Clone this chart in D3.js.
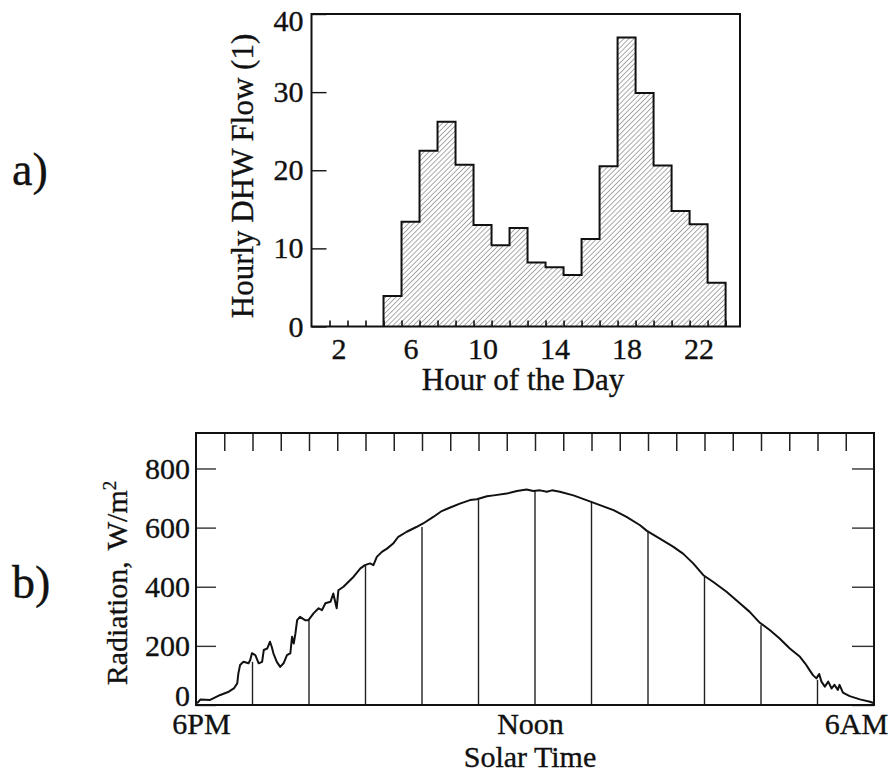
<!DOCTYPE html>
<html>
<head>
<meta charset="utf-8">
<script src="https://cdn.jsdelivr.net/npm/d3@7"></script>
<style>
body { margin: 0; background: #fff; }
</style>
</head>
<body>
<div class="figure"></div>
<script>
const w = 894;
const h = 773;
const serif = "'Liberation Serif', 'Times New Roman', Times, 'DejaVu Serif', serif";

// a) hourly DHW flow, one bar per hour of the day
const hours = [5, 6, 7, 8, 9, 10, 11, 12, 13, 14, 15, 16, 17, 18, 19, 20, 21, 22, 23];
const flow = [3.9, 13.4, 22.5, 26.2, 20.7, 13.0, 10.4, 12.6, 8.2, 7.6, 6.6, 11.2, 20.5, 37.0, 29.9, 20.6, 14.8, 13.1, 5.6];
const flowTicks = [0, 10, 20, 30, 40];
const hourTicks = [2, 6, 10, 14, 18, 22];

// b) radiation trace, hours from the left edge of the plot
const solarHours = [0.02, 0.08, 0.25, 0.43, 0.58, 0.67, 0.73, 0.75, 0.78, 0.84, 0.93, 0.96, 0.99, 1.05, 1.11, 1.17,
    1.2, 1.26, 1.31, 1.34, 1.37, 1.43, 1.49, 1.55, 1.61, 1.67, 1.7, 1.73, 1.76, 1.79, 1.84, 1.93, 1.99, 2.08, 2.17,
    2.23, 2.29, 2.38, 2.43, 2.49, 2.52, 2.61, 2.7, 2.79, 2.91, 2.99, 3.08, 3.14, 3.2, 3.29, 3.38, 3.49, 3.58, 3.73,
    3.9, 4.02, 4.2, 4.35, 4.5, 4.67, 4.85, 4.97, 5.15, 5.27, 5.5, 5.68, 5.85, 5.97, 6.09, 6.21, 6.3, 6.44, 6.68,
    6.91, 7.15, 7.39, 7.62, 7.86, 7.98, 8.21, 8.45, 8.62, 8.8, 8.98, 9.15, 9.39, 9.63, 9.8, 9.98, 10.16, 10.33,
    10.51, 10.69, 10.78, 10.86, 10.92, 10.98, 11.03, 11.07, 11.13, 11.19, 11.25, 11.3, 11.36, 11.39, 11.45, 11.57,
    11.75, 11.93, 12.0];
const radiation = [6, 19, 17, 34, 45, 56, 73, 107, 135, 146, 141, 152, 175, 169, 141, 146,
    186, 191, 214, 197, 175, 146, 129, 141, 169, 175, 231, 208, 242, 287, 298, 287, 287, 310, 327,
    321, 344, 349, 377, 327, 388, 400, 417, 434, 462, 473, 479, 473, 501, 518, 529, 546, 569, 586,
    602, 614, 636, 656, 668, 681, 693, 696, 706, 709, 715, 724, 729, 724, 726, 721, 726, 721, 709,
    693, 676, 659, 636, 608, 589, 563, 535, 512, 479, 439, 417, 383, 343, 315, 278, 253, 225,
    191, 163, 141, 118, 101, 90, 105, 79, 62, 79, 56, 68, 51, 68, 42, 30,
    19, 11, 6];
const dropHours = [1, 2, 3, 4, 5, 6, 7, 8, 9, 10, 11];
const dropRadiation = [146, 287, 473, 602, 696, 724, 688, 589, 434, 270, 85];
const radTicks = [0, 200, 400, 600, 800];
const timeTicks = [0, 6, 12];
const timeLabels = ["6PM", "Noon", "6AM"];

let svg = d3.select(".figure")
    .append("svg")
    .attr("width", w)
    .attr("height", h)
    .style("font-family", serif);

// hatch for the bars
svg.append("defs").append("pattern")
    .attr("id", "hatch")
    .attr("patternUnits", "userSpaceOnUse")
    .attr("width", 3.6)
    .attr("height", 3.6)
    .attr("patternTransform", "rotate(45)")
    .append("line")
    .attr("x1", 0).attr("y1", 0)
    .attr("x2", 0).attr("y2", 3.6)
    .attr("stroke", "#444")
    .attr("stroke-width", 0.9);

// scanned look: slightly heavy serif text
function styleLabels(sel, size) {
    sel.attr("font-size", size)
        .attr("font-family", serif)
        .attr("fill", "#111")
        .attr("stroke", "#111")
        .attr("stroke-width", 0.35);
}

// ---------- a) ----------
let x1 = d3.scaleLinear().domain([0.5, 24.3]).range([311.5, 740]);
let y1 = d3.scaleLinear().domain([0, 40]).range([326.5, 14]);

let gA = svg.append("g");

gA.selectAll("rect.bar")
    .data(hours)
    .enter()
    .append("rect")
    .attr("class", "bar")
    .attr("x", (d) => x1(d - 0.5))
    .attr("width", (d) => x1(d + 0.5) - x1(d - 0.5))
    .attr("y", (d, i) => y1(flow[i]))
    .attr("height", (d, i) => y1(0) - y1(flow[i]))
    .attr("fill", "url(#hatch)");

// step outline
let steps = [[hours[0] - 0.5, 0]];
hours.forEach((d, i) => {
    steps.push([d - 0.5, flow[i]]);
    steps.push([d + 0.5, flow[i]]);
});
steps.push([hours[hours.length - 1] + 0.5, 0]);

gA.append("path")
    .datum(steps)
    .attr("fill", "none")
    .attr("stroke", "#111")
    .attr("stroke-width", 2)
    .attr("d", d3.line().x((d) => x1(d[0])).y((d) => y1(d[1])));

// hour boundary ticks
gA.append("g")
    .attr("transform", "translate(0," + y1(0) + ")")
    .call(d3.axisBottom(x1).tickValues(d3.range(1.5, 24, 1)).tickSize(-6).tickFormat(""))
    .call((g) => g.select(".domain").remove())
    .selectAll("line").attr("stroke", "#111").attr("stroke-width", 1.6);

gA.append("g")
    .attr("transform", "translate(0," + y1(0) + ")")
    .call(d3.axisBottom(x1).tickValues(hourTicks).tickSize(0).tickPadding(11))
    .call((g) => g.select(".domain").remove())
    .selectAll("text").call(styleLabels, 30);

gA.append("g")
    .attr("transform", "translate(" + x1(0.5) + ",0)")
    .call(d3.axisLeft(y1).tickValues(flowTicks).tickSize(-15).tickPadding(8))
    .call((g) => g.select(".domain").remove())
    .call((g) => g.selectAll("line").attr("stroke", "#111").attr("stroke-width", 1.4))
    .selectAll("text").call(styleLabels, 30)
    .attr("dy", (d) => d === 40 ? "0.55em" : "0.32em");

gA.append("rect")
    .attr("x", x1(0.5))
    .attr("y", y1(40))
    .attr("width", x1(24.3) - x1(0.5))
    .attr("height", y1(0) - y1(40))
    .attr("fill", "none")
    .attr("stroke", "#111")
    .attr("stroke-width", 2);

gA.append("text")
    .attr("x", 523)
    .attr("y", 390)
    .attr("text-anchor", "middle")
    .call(styleLabels, 31)
    .text("Hour of the Day");

gA.append("text")
    .attr("transform", "translate(253,176) rotate(-90)")
    .attr("text-anchor", "middle")
    .call(styleLabels, 31)
    .text("Hourly DHW Flow (1)");

svg.append("text")
    .attr("x", 12)
    .attr("y", 185)
    .call(styleLabels, 46)
    .text("a)");

// ---------- b) ----------
let x2 = d3.scaleLinear().domain([0, 12]).range([196, 874]);
let y2 = d3.scaleLinear().domain([0, 920]).range([705, 433]);

let gB = svg.append("g");

gB.selectAll("line.drop")
    .data(dropHours)
    .enter()
    .append("line")
    .attr("class", "drop")
    .attr("x1", (d) => x2(d))
    .attr("x2", (d) => x2(d))
    .attr("y1", y2(0))
    .attr("y2", (d, i) => y2(dropRadiation[i]))
    .attr("stroke", "#222")
    .attr("stroke-width", 1.4);

gB.append("path")
    .datum(solarHours)
    .attr("fill", "none")
    .attr("stroke", "#111")
    .attr("stroke-width", 2)
    .attr("stroke-linejoin", "round")
    .attr("d", d3.line().x((d) => x2(d)).y((d, i) => y2(radiation[i])));

gB.append("g")
    .attr("transform", "translate(0," + y2(920) + ")")
    .call(d3.axisTop(x2).tickValues(d3.range(0.5, 12, 0.5)).tickSize(-18).tickFormat(""))
    .call((g) => g.select(".domain").remove())
    .selectAll("line").attr("stroke", "#222").attr("stroke-width", 1.5);

gB.append("g")
    .attr("transform", "translate(" + x2(0) + ",0)")
    .call(d3.axisLeft(y2).tickValues(radTicks).tickSize(-20).tickPadding(6))
    .call((g) => g.select(".domain").remove())
    .call((g) => g.selectAll("line").attr("stroke", "#333").attr("stroke-width", 1.4))
    .selectAll("text").call(styleLabels, 30)
    .attr("dy", (d) => d === 0 ? "0em" : "0.32em");

gB.append("g")
    .attr("transform", "translate(" + x2(12) + ",0)")
    .call(d3.axisRight(y2).tickValues(radTicks).tickSize(-22).tickFormat(""))
    .call((g) => g.select(".domain").remove())
    .selectAll("line").attr("stroke", "#333").attr("stroke-width", 1.4);

gB.append("g")
    .attr("transform", "translate(0," + y2(0) + ")")
    .call(d3.axisBottom(x2).tickValues(timeTicks).tickSize(0).tickPadding(8)
        .tickFormat((d, i) => timeLabels[i]))
    .call((g) => g.select(".domain").remove())
    .selectAll("text").call(styleLabels, 30)
    .attr("dx", (d, i) => [5, -5, -18][i]);

gB.append("rect")
    .attr("x", x2(0))
    .attr("y", y2(920))
    .attr("width", x2(12) - x2(0))
    .attr("height", y2(0) - y2(920))
    .attr("fill", "none")
    .attr("stroke", "#111")
    .attr("stroke-width", 2);

gB.append("text")
    .attr("x", 530)
    .attr("y", 767)
    .attr("text-anchor", "middle")
    .call(styleLabels, 30)
    .text("Solar Time");

let radTitle = gB.append("text")
    .attr("transform", "translate(127,583) rotate(-90)")
    .attr("text-anchor", "middle")
    .call(styleLabels, 30);
radTitle.append("tspan").text("Radiation, ");
radTitle.append("tspan").attr("dx", 4).text("W/m");
radTitle.append("tspan").attr("font-size", 19).attr("stroke-width", 0.25).attr("dy", -11).text("2");

svg.append("text")
    .attr("x", 12)
    .attr("y", 598)
    .call(styleLabels, 46)
    .text("b)");
</script>
</body>
</html>
